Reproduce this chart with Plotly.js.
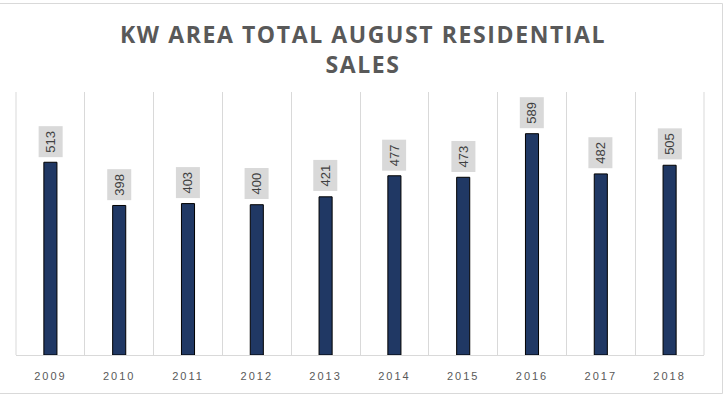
<!DOCTYPE html>
<html>
<head>
<meta charset="utf-8">
<script src="https://cdn.plot.ly/plotly-3.0.1.min.js"></script>
<style>
  html, body { margin: 0; padding: 0; background: #fff; }
  #chart { width: 726px; height: 400px; }
  .xtick text { letter-spacing: 2px; }
  .gtitle { letter-spacing: 1.6px; }
</style>
</head>
<body>
<div id="chart"></div>
<script>
const years = ["2009", "2010", "2011", "2012", "2013", "2014", "2015", "2016", "2017", "2018"];
const sales = [513, 398, 403, 400, 421, 477, 473, 589, 482, 505];
const chartTitle = "KW AREA TOTAL AUGUST RESIDENTIAL<br>SALES";

const trace = {
  type: "bar",
  x: years,
  y: sales,
  width: 0.19,
  marker: { color: "#203864", line: { color: "#000000", width: 1 } },
  hoverinfo: "none"
};

const annotations = years.map((yr, i) => ({
  x: i,
  y: sales[i],
  xref: "x",
  yref: "y",
  text: String(sales[i]),
  showarrow: false,
  textangle: -90,
  yanchor: "bottom",
  yshift: 5,
  bgcolor: "#d9d9d9",
  borderpad: 4,
  font: { family: "Liberation Sans", size: 13, color: "#404040" }
}));

const W = 688, H = 263; // plot area size in px
const layout = {
  width: 726,
  height: 400,
  margin: { l: 16, r: 22, t: 92, b: 45 },
  paper_bgcolor: "#ffffff",
  plot_bgcolor: "#ffffff",
  showlegend: false,
  title: {
    text: chartTitle,
    x: 0.5,
    xanchor: "center",
    y: 0.893,
    yanchor: "top",
    font: { family: "Open Sans, sans-serif", size: 23, color: "#595959", weight: "bold" }
  },
  xaxis: {
    type: "category",
    range: [-0.5, 9.5],
    tickson: "boundaries",
    showgrid: true,
    gridcolor: "#d9d9d9",
    gridwidth: 1,
    ticks: "",
    showline: true,
    linecolor: "#d9d9d9",
    linewidth: 1,
    tickfont: { family: "Liberation Sans, Arial, sans-serif", size: 11, color: "#595959" },
    ticklabelstandoff: 11,
    fixedrange: true
  },
  yaxis: {
    range: [0, 700],
    showgrid: false,
    zeroline: false,
    showticklabels: false,
    ticks: "",
    showline: false,
    fixedrange: true
  },
  annotations: annotations,
  shapes: [
    { type: "line", xref: "paper", yref: "paper",
      x0: -20 / W, x1: 706.5 / W, y0: 351.5 / H, y1: 351.5 / H,
      line: { color: "#d9d9d9", width: 1 }, layer: "above" },
    { type: "line", xref: "paper", yref: "paper",
      x0: 706.5 / W, x1: 706.5 / W, y0: 351.5 / H, y1: -38.5 / H,
      line: { color: "#d9d9d9", width: 1 }, layer: "above" },
    { type: "line", xref: "paper", yref: "paper",
      x0: -20 / W, x1: 706.5 / W, y0: -38.5 / H, y1: -38.5 / H,
      line: { color: "#d9d9d9", width: 1 }, layer: "above" },
    { type: "line", xref: "paper", yref: "paper", x0: 0, x1: 0, y0: 0, y1: 1,
      line: { color: "#d9d9d9", width: 1 }, layer: "below" },
    { type: "line", xref: "paper", yref: "paper", x0: 1, x1: 1, y0: 0, y1: 1,
      line: { color: "#d9d9d9", width: 1 }, layer: "below" }
  ]
};

Plotly.newPlot("chart", [trace], layout, { displayModeBar: false });
</script>
</body>
</html>
